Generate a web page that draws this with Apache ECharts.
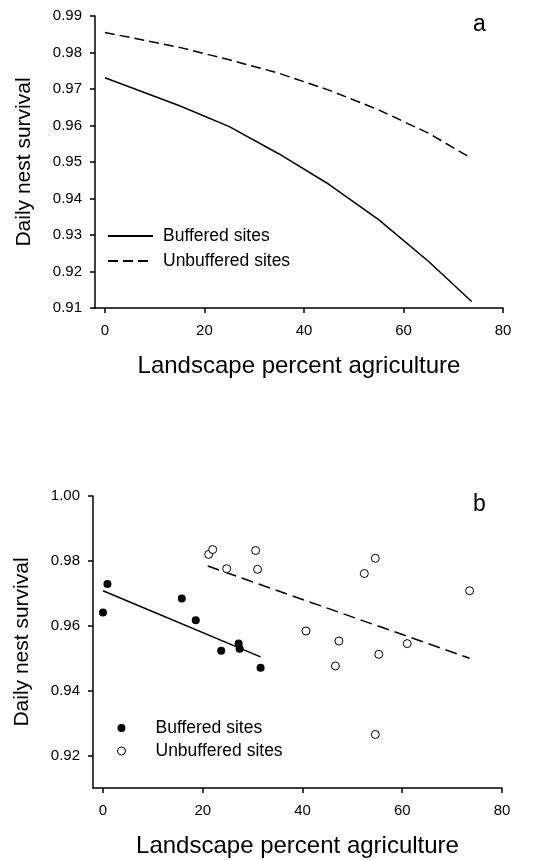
<!DOCTYPE html>
<html>
<head>
<meta charset="utf-8">
<script src="https://cdn.jsdelivr.net/npm/echarts@6/dist/echarts.min.js"></script>
<style>html,body{margin:0;padding:0;background:#fff}#c{width:535px;height:860px}</style>
</head>
<body>
<div id="c"></div>
<script>
// Panel a: fitted curves
var aX = [0, 15, 25, 35, 45, 55, 65, 73.7];
var aBuffered = [0.9731, 0.9654, 0.9597, 0.9522, 0.9439, 0.9342, 0.9228, 0.9118];
var aUnbuffered = [0.9855, 0.9814, 0.9780, 0.9743, 0.9697, 0.9643, 0.9579, 0.9510];

// Panel b: observed points
var bBufX = [0, 0.9, 15.8, 18.6, 23.7, 27.2, 27.4, 31.6];
var bBufY = [0.9641, 0.9729, 0.9684, 0.9617, 0.9523, 0.9545, 0.9529, 0.9471];
var bUnbX = [21.2, 22.0, 24.8, 30.6, 31.0, 40.7, 46.6, 47.3, 52.4, 54.6, 54.6, 55.3, 61.0, 73.5];
var bUnbY = [0.9820, 0.9835, 0.9776, 0.9832, 0.9774, 0.9584, 0.9476, 0.9553, 0.9761, 0.9808, 0.9265, 0.9512, 0.9545, 0.9708];
// Panel b: regression lines (end points)
var bBufLineX = [0, 31.6];
var bBufLineY = [0.9708, 0.9504];
var bUnbLineX = [21.0, 73.5];
var bUnbLineY = [0.9784, 0.9500];

var xTicks = [0, 20, 40, 60, 80];
var aYTicks = [0.91, 0.92, 0.93, 0.94, 0.95, 0.96, 0.97, 0.98, 0.99];
var bYTicks = [0.92, 0.94, 0.96, 0.98, 1.00];

function pairs(xs, ys) { return xs.map(function (x, i) { return [x, ys[i]]; }); }

var FONT = 'Liberation Sans, Arial, sans-serif';
var axisLine = { show: true, onZero: false, lineStyle: { color: '#000', width: 1.5 } };
var axisTick = function (vals) { return { show: true, inside: false, length: 5, lineStyle: { color: '#000', width: 1.5 }, customValues: vals }; };

function xAxis(gi) {
  return {
    type: 'value', gridIndex: gi, min: -2, max: 80,
    axisLine: axisLine, axisTick: axisTick(xTicks),
    axisLabel: { customValues: xTicks, color: '#000', fontSize: 15, fontFamily: FONT, margin: 15 },
    splitLine: { show: false },
    name: 'Landscape percent agriculture', nameLocation: 'middle', nameGap: 46,
    nameTextStyle: { color: '#000', fontSize: 24, fontFamily: FONT }
  };
}
function yAxis(gi, min, max, ticks) {
  return {
    type: 'value', gridIndex: gi, min: min, max: max,
    axisLine: axisLine, axisTick: axisTick(ticks),
    axisLabel: { customValues: ticks, color: '#000', fontSize: 15, fontFamily: FONT, margin: 13,
      formatter: function (v) { return v.toFixed(2); } },
    splitLine: { show: false },
    name: 'Daily nest survival', nameLocation: 'middle', nameGap: 60,
    nameTextStyle: { color: '#000', fontSize: 21, fontFamily: FONT }
  };
}

var chart = echarts.init(document.getElementById('c'));
chart.setOption({
  backgroundColor: '#fff',
  animation: false,
  grid: [
    { left: 95, right: 32, top: 16, bottom: 552 },
    { left: 93, right: 33, top: 496, bottom: 72 }
  ],
  xAxis: [xAxis(0), xAxis(1)],
  yAxis: [yAxis(0, 0.91, 0.99, aYTicks), yAxis(1, 0.91, 1.00, bYTicks)],
  legend: [
    {
      data: ['Buffered sites', 'Unbuffered sites'],
      orient: 'vertical', left: 107, top: 226, padding: 0, itemGap: 5,
      itemWidth: 45, itemHeight: 14,
      itemStyle: { opacity: 0 },
      textStyle: { color: '#000', fontSize: 17.5, fontFamily: FONT, lineHeight: 20, padding: [0, 0, 0, 5] }
    },
    {
      data: ['Buffered sites (b)', 'Unbuffered sites (b)'],
      orient: 'vertical', left: 117, top: 718, padding: 0, itemGap: 3,
      itemWidth: 8, itemHeight: 8,
      itemStyle: { borderWidth: 1 },
      formatter: function (n) { return n.replace(' (b)', ''); },
      textStyle: { color: '#000', fontSize: 17.5, fontFamily: FONT, lineHeight: 20, padding: [0, 0, 0, 25] }
    }
  ],
  graphic: [
    { type: 'text', left: 473, top: 13, style: { text: 'a', fontSize: 23, fontFamily: FONT, fill: '#000' } },
    { type: 'text', left: 473, top: 493, style: { text: 'b', fontSize: 23, fontFamily: FONT, fill: '#000' } }
  ],
  series: [
    { name: 'Buffered sites', type: 'line', xAxisIndex: 0, yAxisIndex: 0, symbol: 'none',
      data: pairs(aX, aBuffered), lineStyle: { color: '#000', width: 1.5, type: 'solid' }, itemStyle: { color: '#000' } },
    { name: 'Unbuffered sites', type: 'line', xAxisIndex: 0, yAxisIndex: 0, symbol: 'none',
      data: pairs(aX, aUnbuffered), lineStyle: { color: '#000', width: 1.5, type: [10, 5] }, itemStyle: { color: '#000' } },
    { name: 'Buffered sites (b)', type: 'scatter', xAxisIndex: 1, yAxisIndex: 1, symbol: 'circle', symbolSize: 8,
      data: pairs(bBufX, bBufY), itemStyle: { color: '#000', opacity: 1 } },
    { name: 'Unbuffered sites (b)', type: 'scatter', xAxisIndex: 1, yAxisIndex: 1, symbol: 'circle', symbolSize: 8,
      data: pairs(bUnbX, bUnbY), itemStyle: { color: '#fff', borderColor: '#000', borderWidth: 1, opacity: 1 } },
    { name: 'bufLine', type: 'line', xAxisIndex: 1, yAxisIndex: 1, symbol: 'none', z: 1,
      data: pairs(bBufLineX, bBufLineY), lineStyle: { color: '#000', width: 1.5 } },
    { name: 'unbLine', type: 'line', xAxisIndex: 1, yAxisIndex: 1, symbol: 'none', z: 1,
      data: pairs(bUnbLineX, bUnbLineY), lineStyle: { color: '#000', width: 1.5, type: [12, 6] } }
  ]
});
</script>
</body>
</html>
